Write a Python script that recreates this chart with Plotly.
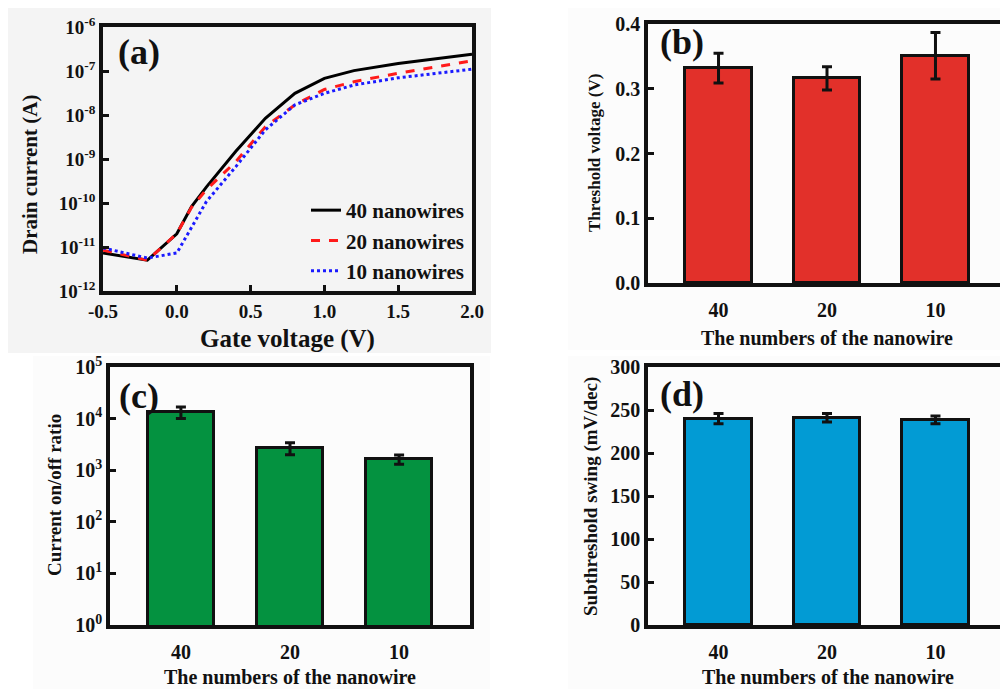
import plotly.graph_objects as go

# the page body adds an 8 px offset, so the figure covers reference pixels 8..1008 x 8..689
OFF = 8
W, H = 1008 - OFF, 689 - OFF

# ---------- data: panel (a) transfer curves ----------
gate_v = [-0.5, -0.2, 0.0, 0.1, 0.2, 0.4, 0.6, 0.8, 1.0, 1.2, 1.5, 2.0]
i_40 = [7.3e-12, 5.0e-12, 2.0e-11, 8.3e-11, 2.3e-10, 1.5e-9, 8.4e-9, 3.1e-8, 6.8e-8, 1.02e-7, 1.48e-7, 2.4e-7]
i_20 = [8.5e-12, 5.0e-12, 2.0e-11, 8.0e-11, 2.0e-10, 8.7e-10, 5.4e-9, 1.7e-8, 3.8e-8, 5.7e-8, 8.9e-8, 1.7e-7]
i_10 = [9.5e-12, 5.6e-12, 7.3e-12, 2.9e-11, 1.07e-10, 6.7e-10, 4.6e-9, 1.7e-8, 3.1e-8, 4.8e-8, 7.0e-8, 1.1e-7]
series_names = ["40 nanowires", "20 nanowires", "10 nanowires"]

# ---------- data: panels (b)-(d) ----------
wire_counts = ["40", "20", "10"]
vth = [0.332, 0.316, 0.351]
vth_err = [0.023, 0.018, 0.036]
onoff = [1.34e4, 2.69e3, 1.63e3]
onoff_err = [3.3e3, 7.0e2, 3.3e2]
ss = [240, 241, 238.5]
ss_err = [6, 5, 4.5]

# tick labels
a_xticks = [-0.5, 0.0, 0.5, 1.0, 1.5, 2.0]
a_xticktext = ["-0.5", "0.0", "0.5", "1.0", "1.5", "2.0"]
a_yexp = [-12, -11, -10, -9, -8, -7, -6]
b_yticks = [0.0, 0.1, 0.2, 0.3, 0.4]
b_yticktext = ["0.0", "0.1", "0.2", "0.3", "0.4"]
c_yexp = [0, 1, 2, 3, 4, 5]
d_yticks = [0, 50, 100, 150, 200, 250, 300]

FONT = "Liberation Serif"
RED = "#e2302a"
GREEN = "#049240"
BLUE = "#029bd4"


def px_x(p):
    return (p - OFF) / W


def px_y(p):
    return 1 - (p - OFF) / H


fig = go.Figure()

# panel (a) curves
styles = [("black", "solid"), ("#ff1a1a", "dash"), ("#1a1aff", "dot")]
for name, ys, (col, dash) in zip(series_names, [i_40, i_20, i_10], styles):
    fig.add_trace(go.Scatter(x=gate_v, y=ys, mode="lines", name=name,
                             line=dict(color=col, width=3, dash=dash),
                             xaxis="x", yaxis="y"))

cat_pos = list(range(len(wire_counts)))


def bar(vals, errs, color, xa, ya):
    return go.Bar(x=cat_pos, y=vals, width=0.61, showlegend=False,
                  marker=dict(color=color, line=dict(color="#111111", width=3)),
                  error_y=dict(type="data", array=errs, visible=True,
                               color="#111111", thickness=3, width=5),
                  xaxis=xa, yaxis=ya)


fig.add_trace(bar(vth, vth_err, RED, "x2", "y2"))
fig.add_trace(bar(onoff, onoff_err, GREEN, "x3", "y3"))
fig.add_trace(bar(ss, ss_err, BLUE, "x4", "y4"))

tickfont = dict(family=FONT, size=19, color="#111111", weight="bold")
axis_common = dict(showline=True, linecolor="#111111", linewidth=3.5, mirror=True,
                   showgrid=False, zeroline=False, tickfont=tickfont, automargin=False,
                   ticks="inside", ticklen=6, tickwidth=3, tickcolor="#111111")

dom_a_x = [px_x(103), px_x(472)]
dom_a_y = [px_y(291), px_y(27)]
dom_b_x = [px_x(648), px_x(1006)]
dom_b_y = [px_y(283), px_y(24)]
dom_c_x = [px_x(110), px_x(470)]
dom_c_y = [px_y(625), px_y(367)]
dom_d_x = [px_x(648), px_x(1006)]
dom_d_y = [px_y(625), px_y(367)]

cat_range = [-0.65, 2.65]
catfont = dict(tickfont, size=20)

fig.update_layout(
    width=W, height=H,
    margin=dict(l=0, r=0, t=0, b=0, autoexpand=False),
    paper_bgcolor="white",
    plot_bgcolor="rgba(0,0,0,0)",
    font=dict(family=FONT, color="#111111"),
    xaxis=dict(axis_common, domain=dom_a_x, anchor="y", range=[-0.5, 2.0],
               tickvals=a_xticks, ticktext=a_xticktext),
    yaxis=dict(axis_common, domain=dom_a_y, anchor="x", type="log", range=[-12, -6],
               tickvals=[10.0 ** e for e in a_yexp],
               ticktext=["10<sup>%d</sup>" % e for e in a_yexp]),
    xaxis2=dict(axis_common, domain=dom_b_x, anchor="y2", range=cat_range,
                tickvals=cat_pos, ticktext=wire_counts, ticks="",
                tickfont=catfont, ticklabelstandoff=6),
    yaxis2=dict(axis_common, domain=dom_b_y, anchor="x2", range=[0, 0.4],
                tickvals=b_yticks, ticktext=b_yticktext, tickfont=catfont),
    xaxis3=dict(axis_common, domain=dom_c_x, anchor="y3", range=cat_range,
                tickvals=cat_pos, ticktext=wire_counts, ticks="",
                tickfont=catfont, ticklabelstandoff=6),
    yaxis3=dict(axis_common, domain=dom_c_y, anchor="x3", type="log", range=[0, 5],
                tickvals=[10.0 ** e for e in c_yexp],
                ticktext=["10<sup>%d</sup>" % e for e in c_yexp],
                tickfont=catfont),
    xaxis4=dict(axis_common, domain=dom_d_x, anchor="y4", range=cat_range,
                tickvals=cat_pos, ticktext=wire_counts, ticks="",
                tickfont=catfont, ticklabelstandoff=6),
    yaxis4=dict(axis_common, domain=dom_d_y, anchor="x4", range=[0, 300],
                tickvals=d_yticks, tickfont=catfont),
    legend=dict(x=px_x(470), xanchor="right", y=px_y(190), yanchor="top",
                bgcolor="rgba(0,0,0,0)", borderwidth=0,
                font=dict(family=FONT, size=21, color="#111111", weight="bold"),
                tracegroupgap=0),
    bargap=0,
)

# panel backgrounds
fig.add_shape(type="rect", xref="paper", yref="paper", layer="below",
              x0=px_x(8), x1=px_x(491), y0=px_y(353), y1=px_y(8),
              fillcolor="#f4f4f4", line=dict(width=0))
for x0, x1, y0, y1 in [(568, 1008, 8, 350), (33, 490, 356, 689), (568, 1008, 356, 689)]:
    fig.add_shape(type="rect", xref="paper", yref="paper", layer="below",
                  x0=px_x(x0), x1=px_x(x1), y0=px_y(y1), y1=px_y(y0),
                  fillcolor="#fcfcfc", line=dict(width=0))


def ann(text, x, y, size, angle=0):
    fig.add_annotation(text=text, x=px_x(x), y=px_y(y), xref="paper", yref="paper",
                       showarrow=False, textangle=angle, xanchor="center", yanchor="middle",
                       font=dict(family=FONT, size=size, color="#111111", weight="bold"))


# panel labels
ann("(a)", 139, 52, 36)
ann("(b)", 682, 42, 36)
ann("(c)", 139, 396, 36)
ann("(d)", 682, 394, 36)

# axis titles
ann("Drain current (A)", 30, 175, 21, -90)
ann("Gate voltage (V)", 287, 339, 25)
ann("Threshold voltage (V)", 594, 153, 17, -90)
ann("The numbers of the nanowire", 827, 338, 20)
ann("Current on/off ratio", 54, 495, 19, -90)
ann("The numbers of the nanowire", 290, 677, 20)
ann("Subthreshold swing (mV/dec)", 591, 497, 19, -90)
ann("The numbers of the nanowire", 828, 677, 20)

fig.write_html("out.html")
